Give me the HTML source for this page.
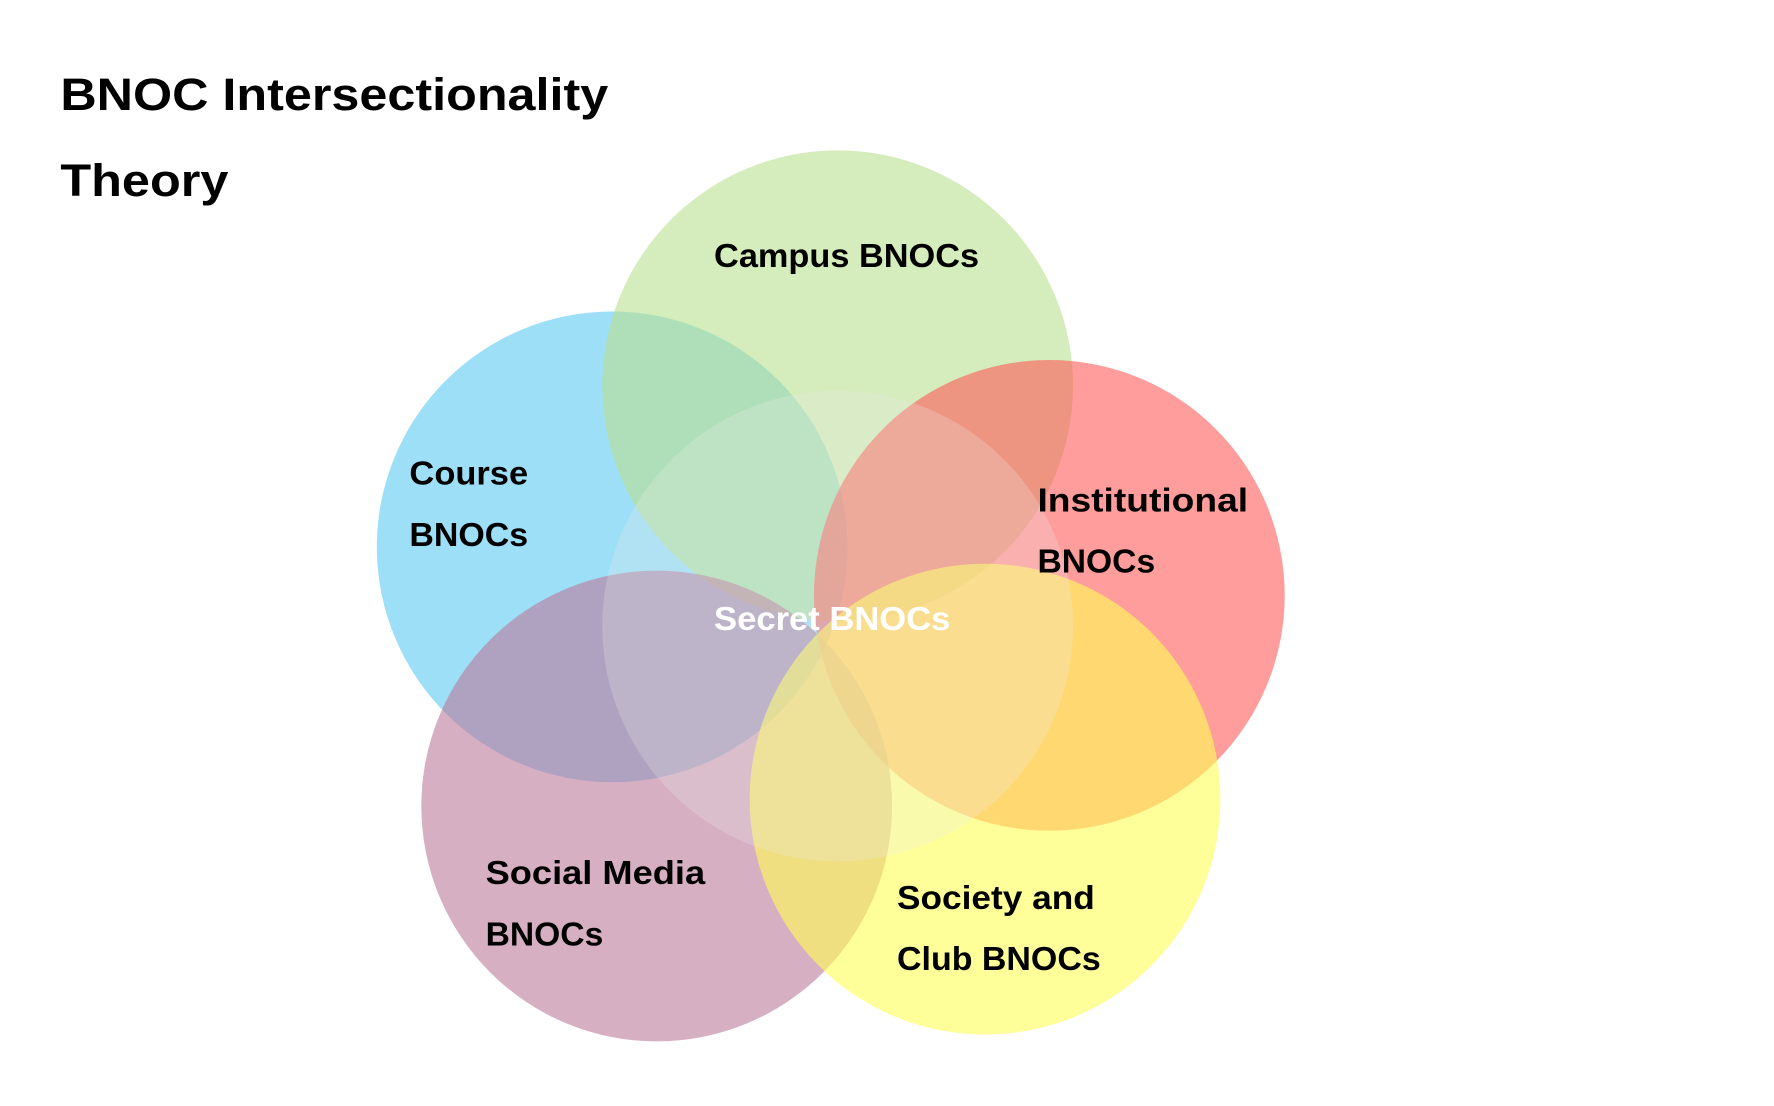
<!DOCTYPE html>
<html><head><meta charset="utf-8"><style>html,body{margin:0;padding:0;background:#fff}svg{display:block}</style></head>
<body>
<svg width="1774" height="1106" viewBox="0 0 1774 1106" xmlns="http://www.w3.org/2000/svg" font-family="'Liberation Sans', sans-serif" font-weight="bold">
<rect width="1774" height="1106" fill="#fff"/>
<g transform="scale(0.989)">
<circle cx="619" cy="553" r="238" fill="rgb(92,202,242)" fill-opacity="0.6"/>
<circle cx="847" cy="390" r="238" fill="rgb(185,223,143)" fill-opacity="0.6"/>
<circle cx="1061" cy="602" r="238" fill="rgb(255,92,90)" fill-opacity="0.6"/>
<circle cx="664" cy="815" r="238" fill="rgb(187,122,155)" fill-opacity="0.6"/>
<circle cx="996" cy="808" r="238" fill="rgb(255,255,85)" fill-opacity="0.6"/>
<circle cx="847" cy="633" r="238" fill="rgb(235,235,230)" fill-opacity="0.25"/>
<g fill="#000">
<text x="61" y="111" font-size="46" textLength="554" lengthAdjust="spacingAndGlyphs">BNOC Intersectionality</text>
<text x="61" y="198" font-size="46" textLength="170" lengthAdjust="spacingAndGlyphs">Theory</text>
<text x="722" y="270" font-size="34" textLength="268" lengthAdjust="spacingAndGlyphs">Campus BNOCs</text>
<text x="414" y="490" font-size="34" textLength="120" lengthAdjust="spacingAndGlyphs">Course</text>
<text x="414" y="552" font-size="34" textLength="120" lengthAdjust="spacingAndGlyphs">BNOCs</text>
<text x="1049" y="517" font-size="34" textLength="213" lengthAdjust="spacingAndGlyphs">Institutional</text>
<text x="1049" y="579" font-size="34" textLength="119" lengthAdjust="spacingAndGlyphs">BNOCs</text>
<text x="491" y="894" font-size="34" textLength="222" lengthAdjust="spacingAndGlyphs">Social Media</text>
<text x="491" y="956" font-size="34" textLength="119" lengthAdjust="spacingAndGlyphs">BNOCs</text>
<text x="907" y="919" font-size="34" textLength="200" lengthAdjust="spacingAndGlyphs">Society and</text>
<text x="907" y="981" font-size="34" textLength="206" lengthAdjust="spacingAndGlyphs">Club BNOCs</text>
</g>
<text x="722" y="637" font-size="34" fill="#fff" textLength="239" lengthAdjust="spacingAndGlyphs">Secret BNOCs</text>
</g>
</svg>
</body></html>
